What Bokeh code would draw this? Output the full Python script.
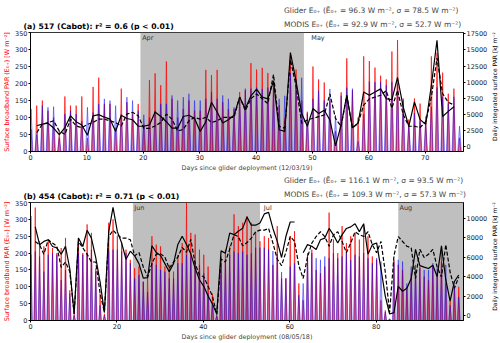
import numpy as np
from bokeh.plotting import figure
from bokeh.models import (Range1d, LinearAxis, FixedTicker, BoxAnnotation, Label,
                          Legend, LegendItem)
from bokeh.layouts import column, row
from bokeh.embed import file_html
from bokeh.resources import INLINE

nan = float("nan")
FONT = "DejaVu Sans"

# ---------------- Panel (a): glider 517, deployed 12/03/19 ----------------
a_glider_peak = [65, 135, 150, 120, 100, 60, 162, 135, 135, 162, 40, 190, 217, 140, 140, 70, 185, 145, 110, 140,
                 80, 210, 230, 195, 265, 155, 100, 125, 150, 120, 120, 240, 225, 240, 145, 125, 125, 175, 180, 260,
                 241, 246, 231, 203, 136, 100, 274, 241, 150, 117, 250, 212, 203, 150, 60, 174, 274, 180, 100, 280,
                 266, 247, 223, 212, 294, 328, 156, 94, 156, 141, 103, 280, 290, 232, 170, 185, 40]
a_modis_peak = [125, 50, 135, 130, 132, 40, 110, 120, 110, 90, 130, 115, 140, 155, 150, 135, 110, 160, 150, 120,
                108, 100, 120, 140, 140, 165, 150, 160, 170, 150, 150, 155, 175, 155, 165, 155, 130, 160, 185, 185,
                188, 184, 188, 188, 155, 164, 231, 212, 217, 112, 155, 179, 150, 184, 107, 164, 188, 185, 30, 110,
                206, 204, 204, 195, 204, 200, 151, 75, 113, 89, 84, 132, 189, 161, 141, 161, 75]
a_glider_daily = [nan, 3270, 3520, 3670, 2920, 1910, 3000, 4800, 3900, 3400,
                  1800, 4800, 5000, 4600, 4300, 2400, 4900, 4400, 4200, 3200,
                  3200, 3400, 5400, 4700, 3900, 2900, 2900, 4700, 4900, 4400,
                  2400, 3900, 6900, 5400, 3700, 4200, 4900, 7700, 5900, 7900,
                  8950, 7700, 7440, 10200, 2660, 2400, 14600, 10200, 5180, 3200,
                  5930, 5180, 5680, 4170, 150, 3400, 7980, 2950, 3700, 8480,
                  7980, 8500, 8980, 7470, 7300, 10740, 6200, 3200, 6970, 4220,
                  3500, 9500, 16500, 4710, 5500, 6220, nan]
a_modis_daily = [nan, 2190, 3500, 3770, 4030, 2450, 1930, 4290, 3240, 2980,
                 3500, 3770, 4290, 4290, 4030, 3770, 3240, 5080, 5350, 4820,
                 2870, 2870, 3240, 3770, 5080, 4290, 2450, 2710, 4030, 4560,
                 4290, 4560, 3770, 4030, 4560, 4560, 4560, 7710, 5610, 7450,
                 8200, 7440, 6690, 11200, 3170, 2900, 13480, 9450, 3670, 4170,
                 4430, 4680, 4930, 8200, 4400, 3170, 7950, 2900, 3670, 6470,
                 7440, 7700, 8000, 8700, 6000, 8730, 5000, 3200, 3200, 3000,
                 3900, 7700, 13750, 8230, 6900, 6500, nan]
a_shades = [(19.5, 48.5)]
a_months = [("Apr", 19.5), ("May", 49.5)]
a_xticks = [0, 10, 20, 30, 40, 50, 60, 70]
a_rticks = [0, 2500, 5000, 7500, 10000, 12500, 15000, 17500]

# ---------------- Panel (b): glider 454, deployed 08/05/18 ----------------
b_glider_peak = [310, 335, 235, 220, 235, 215, 200, 215, 245, 90, 20, 245, 200, 285, 260, 155, 80, 20, 290, 300,
                 250, 230, 210, 180, 155, 160, 115, 135, 250, 225, 220, 160, 165, 145, 195, 230, 350, 260, 255, 210,
                 195, 160, 80, 15, 190, 210, 220, 315, 280, 290, 310, 290, 263, 235, 250, 245, 165, 280, 125, 125,
                 250, 265, 110, 60, 200, 210, 150, 140, 160, 320, 240, 200, 280, 230, 250, 260, 240, 280, 250, 190,
                 180, 60, 30, 5, 180, 165, 150, 100, 140, 150, 160, 130, 120, 160, 140, 215, 110, 60, 100, 100]
b_modis_peak = [195, 205, 190, 145, 195, 200, 195, 120, 150, 80, 15, 200, 195, 200, 210, 145, 45, 15, 205, 210,
                210, 205, 200, 170, 125, 135, 115, 85, 170, 165, 150, 145, 125, 125, 170, 170, 195, 190, 175, 165,
                140, 80, 50, 15, 170, 180, 195, 205, 200, 205, 195, 200, 216, 216, 216, 211, 206, 197, 144, 125,
                160, 170, 75, 110, 195, 200, 185, 180, 190, 185, 200, 185, 190, 200, 180, 195, 190, 200, 185, 170,
                185, 175, 25, 5, 175, 180, 175, 110, 160, 165, 155, 150, 150, 170, 155, 175, 165, 45, 105, 70]
b_glider_daily = [nan, 9100, 7270, 7610, 7780, 7090, 6950, 6300, 7100, 4780,
                  160, 7950, 7090, 8750, 7950, 5950, 3470, 330, 8610, 11100,
                  8610, 7440, 5780, 6610, 6130, 5330, 3850, 3900, 7160, 6470,
                  6160, 5330, 4500, 5330, 7300, 8130, 7300, 6330, 4850, 3680,
                  3000, 2020, 1200, 190, 6640, 6400, 8470, 8300, 8650, 8950,
                  10120, 9270, 9270, 9500, 10430, 10590, 8940, 7610, 5960, 8110,
                  9600, 9600, nan, 6450, 7280, 7110, 6780, 7780, 7950, 8940,
                  8280, 7450, 8280, 8940, 9100, 9430, 8610, 9430, 6290, 7280,
                  7450, 4800, 2000, 165, 300, 3000, 2500, 2810, 3810, 6790,
                  5130, 4970, 4830, 5170, 4000, 7160, 3680, 1500, 3500, 4170]
b_modis_daily = [nan, 7600, 7270, 6300, 7780, 7440, 7100, 4950, 5500, 4500,
                 160, 7610, 6950, 6300, 5500, 5500, 2300, 330, 8100, 8750,
                 8300, 7950, 7950, 7780, 6130, 6470, 4990, 3990, 5330, 6300,
                 6330, 6000, 4850, 5500, 5990, 6990, 6500, 7820, 5330, 4160,
                 3990, 3000, 2000, 100, 5800, 5500, 6820, 8300, 8100, 7160,
                 7500, 7940, 8600, 8770, 8770, 8940, 7440, 5790, 5130, 6500,
                 8110, 7610, 5130, 3810, 6000, 7440, 8110, 8600, 8110, 7110,
                 8280, 8600, 7610, 6450, 7450, 8600, 8300, 8110, 8600, 7280,
                 6450, 7610, 4470, 330, 6120, 8110, 7600, 7110, 6950, 3810,
                 6790, 5960, 6290, 6790, 5000, 3970, 7280, 4470, 2810, 3970]
b_shades = [(23.7, 53.1), (85.1, 100.5)]
b_months = [("Jun", 23.7), ("Jul", 53.7), ("Aug", 85.1)]
b_xticks = [0, 20, 40, 60, 80]
b_rticks = [0, 2000, 4000, 6000, 8000, 10000]

YLABEL = "Surface broadband PAR (E\u2080\u208a) [W m\u207b\u00b2]"
RLABEL = "Daily integrated surface PAR [kJ m\u207b\u00b2]"


def style_axis(ax):
    ax.major_label_text_font = FONT
    ax.major_label_text_font_size = "6.5px"
    ax.major_label_text_color = "#222222"
    ax.axis_label_text_font = FONT
    ax.axis_label_text_font_size = "6.4px"
    ax.axis_label_text_font_style = "normal"
    ax.major_tick_out = 2
    ax.major_tick_in = 0
    ax.minor_tick_out = 0
    ax.minor_tick_in = 0
    ax.major_label_standoff = 1
    ax.axis_label_standoff = 1
    ax.axis_line_color = "black"
    ax.major_tick_line_color = "black"


def blank(width, height):
    f = figure(width=width, height=height, x_range=Range1d(0, width), y_range=Range1d(0, height),
               x_axis_type=None, y_axis_type=None, toolbar_location=None, output_backend="svg",
               min_border=0, outline_line_color=None, title=None)
    return f


def header(height, title, gleg, mleg, title_y, leg_y):
    h = blank(500, height)
    h.add_layout(Label(x=23, y=title_y, text=title, text_baseline="alphabetic", text_font=FONT,
                       text_font_size="7.7px", text_font_style="bold", text_color="black"))
    lr = h.line([], [], line_color="red", line_alpha=0.7, line_width=1)
    lb = h.line([], [], line_color="blue", line_alpha=0.7, line_width=1)
    leg = Legend(items=[LegendItem(label=gleg, renderers=[lr]), LegendItem(label=mleg, renderers=[lb])],
                 location=(264, leg_y), label_text_font=FONT, label_text_font_size="7.5px",
                 glyph_width=11, glyph_height=10, label_height=10, label_standoff=9, spacing=4,
                 padding=0, margin=0, border_line_color=None, background_fill_alpha=0)
    h.add_layout(leg)
    return h


RW = 10


def rlabel(height, ycenter):
    f = blank(RW, height)
    f.add_layout(Label(x=4, y=ycenter, text=RLABEL, angle=np.pi / 2, text_align="center",
                       text_baseline="middle", text_font=FONT, text_font_size="6px", text_color="black"))
    return f


def make_panel(xmax, xticks, rrange, rticks, gpk, mpk, gday, mday, shades, months, xlabel, height):
    p = figure(width=500 - RW, height=height, x_range=Range1d(0, xmax), y_range=Range1d(0, 350),
               output_backend="svg", toolbar_location=None, title=None,
               min_border_left=0, min_border_right=0, min_border_top=2, min_border_bottom=0)
    p.xgrid.visible = False
    p.ygrid.visible = False
    p.outline_line_color = "black"
    p.outline_line_width = 0.8
    p.background_fill_color = "white"

    for s, e in shades:
        p.add_layout(BoxAnnotation(left=s, right=e, fill_color="gray", fill_alpha=0.5,
                                   line_color=None, level="underlay"))

    p.extra_y_ranges = {"r": Range1d(*rrange)}

    d = np.arange(len(gpk)) + 0.1
    p.patches([[x - 0.2, x, x + 0.2] for x in d], [[0, v, 0] for v in gpk],
              fill_color="red", fill_alpha=0.35, line_color="red", line_alpha=0.85, line_width=0.8)
    p.patches([[x - 0.32, x, x + 0.32] for x in d], [[0, v, 0] for v in mpk],
              fill_color="blue", fill_alpha=0.2, line_color="blue", line_alpha=0.55, line_width=0.8)

    p.line(d, gday, y_range_name="r", line_color="black", line_width=1.2)
    p.line(d, mday, y_range_name="r", line_color="black", line_width=1.2, line_dash="4 2")

    for name, x in months:
        p.add_layout(Label(x=x + 0.3, y=350, text=name, text_baseline="top", y_offset=-1,
                           text_font=FONT, text_font_size="6.5px", text_color="#333333"))

    p.xaxis.ticker = FixedTicker(ticks=xticks)
    p.yaxis.ticker = FixedTicker(ticks=list(range(0, 351, 50)))
    p.xaxis.axis_label = xlabel
    p.yaxis.axis_label = YLABEL
    rax = LinearAxis(y_range_name="r", ticker=FixedTicker(ticks=rticks))
    p.add_layout(rax, "right")
    for ax in [p.xaxis[0], p.yaxis[0], rax]:
        style_axis(ax)
    p.yaxis[0].axis_label_text_color = "red"
    return p


ha = header(30, "(a) 517 (Cabot): r\u00b2 = 0.6 (p < 0.01)",
            "Glider E\u2080\u208a (\u0112\u2080\u208a = 96.3 W m\u207b\u00b2, \u03c3 = 78.5 W m\u207b\u00b2)",
            "MODIS E\u2080\u208a (\u0112\u2080\u208a = 92.9 W m\u207b\u00b2, \u03c3 = 52.7 W m\u207b\u00b2)", 4.5, 1)
pa = make_panel(76.8, a_xticks, (-710, 17700), a_rticks,
                a_glider_peak, a_modis_peak, a_glider_daily, a_modis_daily, a_shades, a_months,
                "Days since glider deployment (12/03/19)", 144)
hb = header(26, "(b) 454 (Cabot): r\u00b2 = 0.71 (p < 0.01)",
            "Glider E\u2080\u208a (\u0112\u2080\u208a = 116.1 W m\u207b\u00b2, \u03c3 = 93.5 W m\u207b\u00b2)",
            "MODIS E\u2080\u208a (\u0112\u2080\u208a = 109.3 W m\u207b\u00b2, \u03c3 = 57.3 W m\u207b\u00b2)", 4.5, 1)
pb = make_panel(100.2, b_xticks, (-500, 11600), b_rticks,
                b_glider_peak, b_modis_peak, b_glider_daily, b_modis_daily, b_shades, b_months,
                "Days since glider deployment (08/05/18)", 143)

layout = column(ha, row(pa, rlabel(144, 80)), hb, row(pb, rlabel(143, 79)), spacing=0)
open("out.html", "w").write(file_html(layout, INLINE))
